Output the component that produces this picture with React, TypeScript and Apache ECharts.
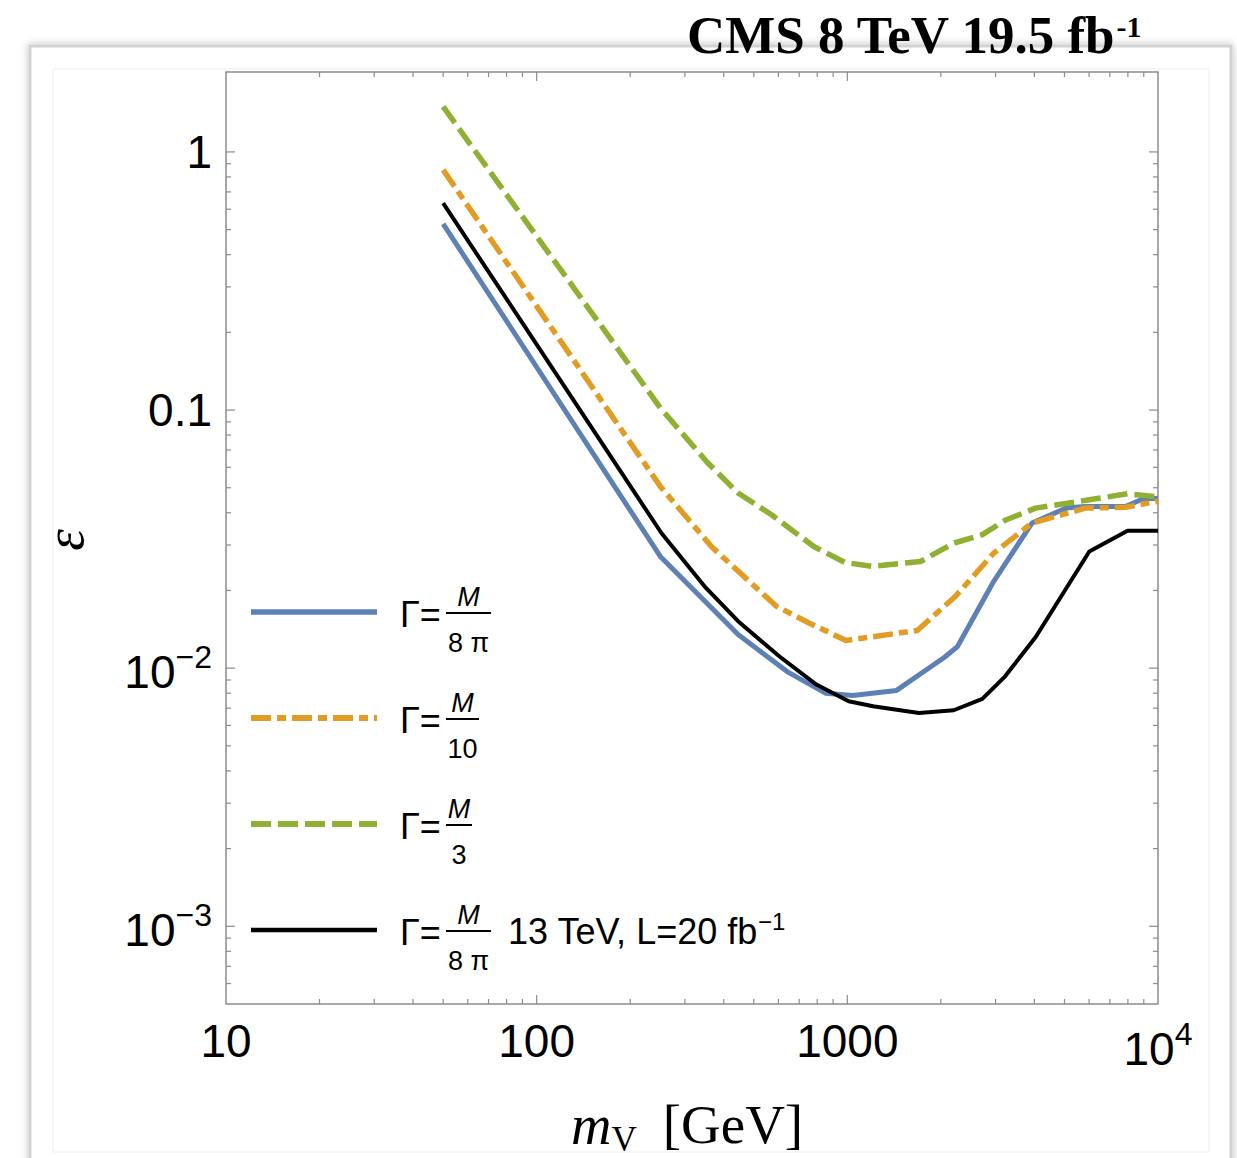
import React, { useEffect, useRef } from 'react';
import * as echarts from 'echarts';

const SANS = '"Liberation Sans", Arial, Helvetica, sans-serif';
const SERIF = '"Liberation Serif", "Times New Roman", serif';

// ---- data ----
const blueX = [50, 250, 445, 640, 850, 1040, 1440, 2050, 2260, 2960, 3930, 5060, 5840, 7850, 8930, 10000];
const blueY = [0.526, 0.0271, 0.0135, 0.0097, 0.0080, 0.00783, 0.0082, 0.0110, 0.0121, 0.0217, 0.0365, 0.0417, 0.0423, 0.0423, 0.0452, 0.0455];

const orangeX = [50, 250, 365, 590, 750, 990, 1680, 2230, 2960, 3930, 5840, 7850, 10000];
const orangeY = [0.852, 0.0506, 0.0296, 0.0174, 0.0150, 0.0128, 0.0140, 0.0190, 0.0279, 0.0365, 0.0417, 0.0420, 0.0443];

const greenX = [50, 250, 355, 445, 570, 780, 980, 1200, 1720, 2200, 2720, 3220, 4040, 6010, 7980, 10000];
const greenY = [1.497, 0.102, 0.0625, 0.0477, 0.0393, 0.0296, 0.0257, 0.0248, 0.0259, 0.0305, 0.0329, 0.0374, 0.0417, 0.0449, 0.0474, 0.0461];

const blackX = [50, 252, 350, 445, 605, 795, 1010, 1210, 1700, 2200, 2720, 3220, 4040, 6010, 7980, 10000];
const blackY = [0.633, 0.0334, 0.0205, 0.0152, 0.0111, 0.00864, 0.00745, 0.00712, 0.00671, 0.00687, 0.0076, 0.0093, 0.0132, 0.0283, 0.0341, 0.0341];

const seriesNames = ['Γ=M/(8π)', 'Γ=M/10', 'Γ=M/3', 'Γ=M/(8π) 13 TeV, L=20 fb⁻¹'];
const legendDenominators = ['8 π', '10', '3', '8 π'];

// ---- axis tick labels ----
const xTickExponents = [1, 2, 3, 4];
const xTickLabels = ['10', '100', '1000', '{b|10}{s|4}'];
const yTickExponents = [0, -1, -2, -3];
const yTickLabels = ['1', '0.1', '{b|10}{s|−2}', '{b|10}{s|−3}'];

// ---- tick mark positions ----
const xMajorTicks = [100, 1000];
const xMinorTicks = [20, 30, 40, 50, 60, 70, 80, 90, 200, 300, 400, 500, 600, 700, 800, 900, 2000, 3000, 4000, 5000, 6000, 7000, 8000, 9000];
const yMajorTicks = [1, 0.1, 0.01, 0.001];
const yMinorTicks = [0.9, 0.8, 0.7, 0.6, 0.5, 0.4, 0.3, 0.2, 0.09, 0.08, 0.07, 0.06, 0.05, 0.04, 0.03, 0.02, 0.009, 0.008, 0.007, 0.006, 0.005, 0.004, 0.003, 0.002, 0.0009, 0.0008, 0.0007, 0.0006];

const X_MIN = 10;
const X_MAX = 10000;
const Y_MIN = 0.0005;
const Y_MAX = 2.04;

const zip = (xs: number[], ys: number[]) => xs.map((x, i) => [x, ys[i]]);

const labelFor = (v: number, exps: number[], labels: string[]) => {
  const e = Math.log10(v);
  const r = Math.round(e);
  if (Math.abs(e - r) > 1e-6) return '';
  const i = exps.indexOf(r);
  return i >= 0 ? labels[i] : '';
};

const TICK_COLOR = '#8c8c8c';

export default function App() {
  const ref = useRef<HTMLDivElement>(null);

  useEffect(() => {
    if (!ref.current) return;
    const chart = echarts.init(ref.current, undefined, { renderer: 'svg' });

    const tickData: number[][] = [
      ...xMajorTicks.map((v) => [v, 1, 0, 9]),
      ...xMinorTicks.map((v) => [v, 1, 0, 5]),
      ...yMajorTicks.map((v) => [10, v, 1, 9]),
      ...yMinorTicks.map((v) => [10, v, 1, 5]),
    ];

    const richTick = {
      b: { fontSize: 46, fontFamily: SANS, color: '#000', lineHeight: 54, padding: [8, 0, 0, 0], verticalAlign: 'top' },
      s: { fontSize: 32, fontFamily: SANS, color: '#000', lineHeight: 32, verticalAlign: 'top' },
    };

    const colors = ['#5E81B5', '#E19C24', '#8FB032', '#000000'];
    const widths = [5, 5.5, 5.5, 4];
    const dashes: any[] = ['solid', [20, 6, 9, 6], [20, 7], 'solid'];
    const legendY = [612, 718, 824, 930];
    const barW = [45, 33, 26, 45];

    const legendEls: any[] = [];
    legendY.forEach((Y, i) => {
      legendEls.push({
        type: 'line',
        z: 20,
        shape: { x1: 251, y1: Y, x2: 377, y2: Y },
        style: {
          stroke: colors[i],
          lineWidth: widths[i] + 0.5,
          lineDash: Array.isArray(dashes[i]) ? dashes[i] : null,
        },
      });
      legendEls.push({
        type: 'text',
        z: 20,
        x: 400,
        y: Y + 2,
        style: { text: 'Γ=', fontSize: 36, fontFamily: SANS, fill: '#000', align: 'left', verticalAlign: 'middle' },
      });
      legendEls.push({
        type: 'line',
        z: 20,
        shape: { x1: 446, y1: Y + 1, x2: 446 + barW[i], y2: Y + 1 },
        style: { stroke: '#000', lineWidth: 2 },
      });
      legendEls.push({
        type: 'text',
        z: 20,
        x: 446 + barW[i] / 2,
        y: Y - 15,
        style: { text: 'M', fontSize: 27, fontStyle: 'italic', fontFamily: SANS, fill: '#000', align: 'center', verticalAlign: 'middle' },
      });
      legendEls.push({
        type: 'text',
        z: 20,
        x: 446 + barW[i] / 2,
        y: Y + 31,
        style: { text: legendDenominators[i], fontSize: 27, fontFamily: SANS, fill: '#000', align: 'center', verticalAlign: 'middle' },
      });
    });
    legendEls.push({
      type: 'text',
      z: 20,
      x: 508,
      y: legendY[3] - 1,
      style: {
        text: '{a|13 TeV, L=20 fb}{s|−1}',
        align: 'left',
        verticalAlign: 'middle',
        rich: {
          a: { fontSize: 36, fontFamily: SANS, fill: '#000', lineHeight: 40, padding: [4, 0, 0, 0], verticalAlign: 'top' },
          s: { fontSize: 24, fontFamily: SANS, fill: '#000', lineHeight: 24, verticalAlign: 'top' },
        },
      },
    });

    const option: any = {
      animation: false,
      backgroundColor: '#ffffff',
      grid: {
        left: 226,
        top: 72,
        width: 932,
        height: 932,
        show: true,
        borderColor: TICK_COLOR,
        borderWidth: 1.5,
        backgroundColor: 'transparent',
      },
      xAxis: {
        type: 'log',
        logBase: 10,
        min: X_MIN,
        max: X_MAX,
        axisLine: { show: false },
        axisTick: { show: false },
        splitLine: { show: false },
        minorTick: { show: false },
        axisLabel: {
          margin: 14,
          fontSize: 46,
          fontFamily: SANS,
          color: '#000',
          showMinLabel: true,
          showMaxLabel: true,
          formatter: (v: number) => labelFor(v, xTickExponents, xTickLabels),
          rich: richTick,
        },
      },
      yAxis: {
        type: 'log',
        logBase: 10,
        min: Y_MIN,
        max: Y_MAX,
        axisLine: { show: false },
        axisTick: { show: false },
        splitLine: { show: false },
        minorTick: { show: false },
        axisLabel: {
          margin: 14,
          fontSize: 46,
          fontFamily: SANS,
          color: '#000',
          formatter: (v: number) => labelFor(v, yTickExponents, yTickLabels),
          rich: richTick,
        },
      },
      series: [
        {
          type: 'custom',
          name: 'ticks',
          silent: true,
          z: 3,
          dimensions: ['x', 'y', 'o', 'l'],
          encode: { x: 0, y: 1 },
          data: tickData,
          renderItem: (params: any, api: any) => {
            const cs = params.coordSys;
            const o = api.value(2);
            const len = api.value(3);
            const style = { stroke: TICK_COLOR, lineWidth: 1.2 };
            if (o === 0) {
              const px = api.coord([api.value(0), 1])[0];
              return {
                type: 'group',
                children: [
                  { type: 'line', shape: { x1: px, y1: cs.y + cs.height, x2: px, y2: cs.y + cs.height - len }, style },
                  { type: 'line', shape: { x1: px, y1: cs.y, x2: px, y2: cs.y + len }, style },
                ],
              };
            }
            const py = api.coord([10, api.value(1)])[1];
            return {
              type: 'group',
              children: [
                { type: 'line', shape: { x1: cs.x, y1: py, x2: cs.x + len, y2: py }, style },
                { type: 'line', shape: { x1: cs.x + cs.width, y1: py, x2: cs.x + cs.width - len, y2: py }, style },
              ],
            };
          },
        },
        {
          type: 'line',
          name: seriesNames[0],
          data: zip(blueX, blueY),
          showSymbol: false,
          symbol: 'none',
          z: 4,
          lineStyle: { color: colors[0], width: widths[0], type: dashes[0], join: 'round' },
        },
        {
          type: 'line',
          name: seriesNames[1],
          data: zip(orangeX, orangeY),
          showSymbol: false,
          symbol: 'none',
          z: 5,
          lineStyle: { color: colors[1], width: widths[1], type: dashes[1], cap: 'butt' },
        },
        {
          type: 'line',
          name: seriesNames[2],
          data: zip(greenX, greenY),
          showSymbol: false,
          symbol: 'none',
          z: 6,
          lineStyle: { color: colors[2], width: widths[2], type: dashes[2], cap: 'butt' },
        },
        {
          type: 'line',
          name: seriesNames[3],
          data: zip(blackX, blackY),
          showSymbol: false,
          symbol: 'none',
          z: 7,
          lineStyle: { color: colors[3], width: widths[3], type: dashes[3], join: 'round' },
        },
      ],
      graphic: {
        elements: [
          {
            type: 'rect',
            z: -10,
            shape: { x: 30, y: 46, width: 1201, height: 1160 },
            style: {
              fill: '#ffffff',
              stroke: '#d2d2d2',
              lineWidth: 3,
              shadowBlur: 8,
              shadowColor: 'rgba(0,0,0,0.25)',
            },
          },
          {
            type: 'rect',
            z: -9,
            shape: { x: 53, y: 69, width: 1156, height: 1083 },
            style: { fill: 'none', stroke: '#eeeeee', lineWidth: 1 },
          },
          {
            type: 'text',
            z: 20,
            x: 687,
            y: 34.5,
            style: {
              text: '{t|CMS 8 TeV 19.5 fb}{s|-1}',
              align: 'left',
              verticalAlign: 'middle',
              rich: {
                t: { fontSize: 53, fontWeight: 'bold', fontFamily: SERIF, fill: '#000', lineHeight: 53, verticalAlign: 'top' },
                s: { fontSize: 30, fontWeight: 'bold', fontFamily: SERIF, fill: '#000', lineHeight: 30, padding: [3, 0, 0, 0], verticalAlign: 'top' },
              },
            },
          },
          {
            type: 'text',
            z: 20,
            x: 571,
            y: 1097,
            style: {
              text: '{m|m}{v|V}{g|[GeV]}',
              align: 'left',
              verticalAlign: 'top',
              rich: {
                m: { fontSize: 56, fontStyle: 'italic', fontFamily: SERIF, fill: '#000', lineHeight: 55, verticalAlign: 'top' },
                v: { fontSize: 35, fontFamily: SERIF, fill: '#000', lineHeight: 55, padding: [25, 0, 0, 0], verticalAlign: 'top' },
                g: { fontSize: 55, fontFamily: SERIF, fill: '#000', lineHeight: 55, padding: [0, 0, 0, 26], verticalAlign: 'top' },
              },
            },
          },
          {
            type: 'text',
            z: 20,
            x: 64,
            y: 540,
            rotation: Math.PI / 2,
            style: { text: 'ε', fontSize: 55, fontStyle: 'italic', fontFamily: SERIF, fill: '#000', align: 'center', verticalAlign: 'middle' },
          },
          ...legendEls,
        ],
      },
    };

    chart.setOption(option);
    return () => chart.dispose();
  }, []);

  return (
    <div
      ref={ref}
      style={{ position: 'absolute', left: 0, top: 0, width: 1237, height: 1158, background: '#fff' }}
    />
  );
}
